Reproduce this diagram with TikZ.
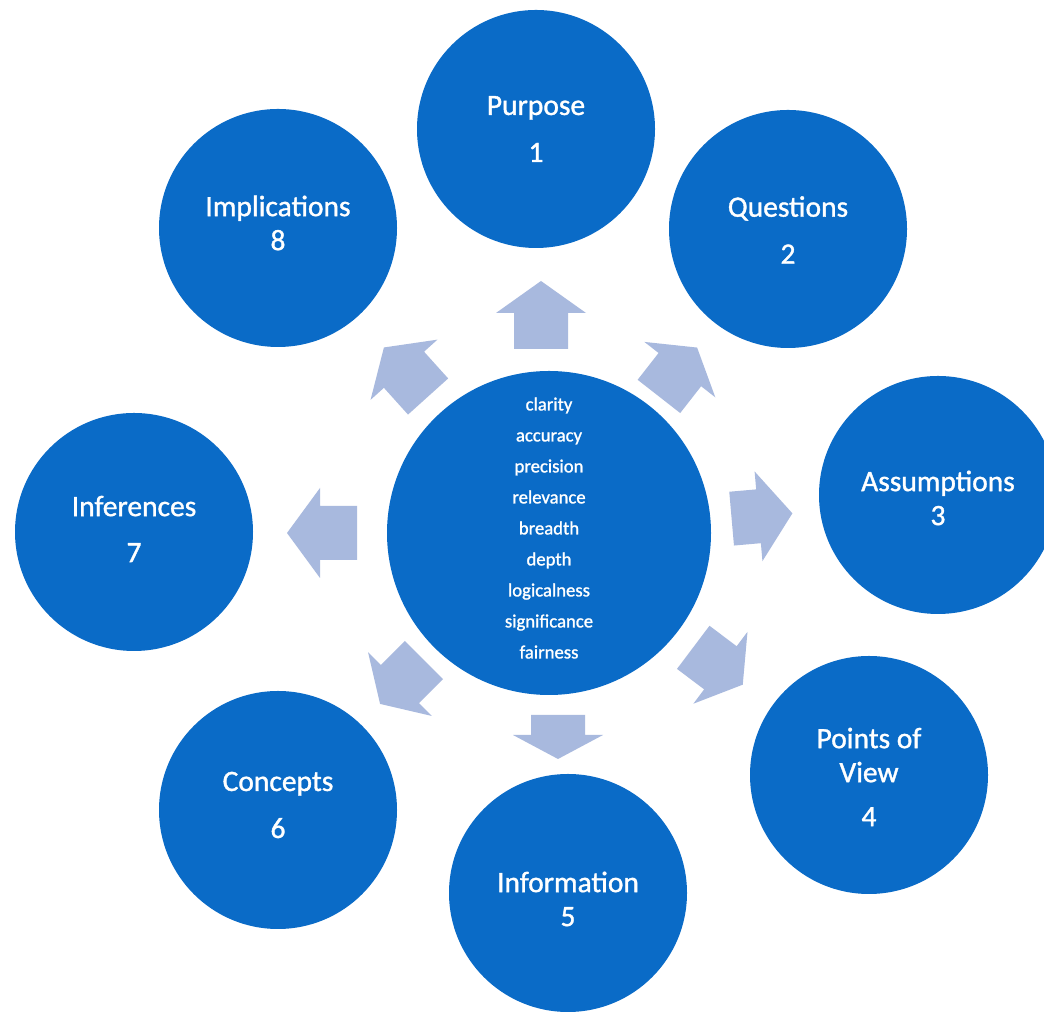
\documentclass[tikz,border=0pt]{standalone}
\usepackage{fontspec}
\setmainfont{Carlito}
\newfontfamily\labelfont{Carlito}[FakeBold=1.2]
\definecolor{cblue}{RGB}{10,107,199}
\definecolor{arrowc}{RGB}{168,185,222}
\tikzset{
  outer/.style={circle, fill=cblue, draw=none, minimum size=238pt, inner sep=0pt},
  otext/.style={text=white, align=center, inner sep=0pt, font=\labelfont\fontsize{29.5}{34}\selectfont},
  inner/.style={circle, fill=cblue, draw=none, minimum size=324pt, inner sep=0pt},
  innertext/.style={text=white, align=center, font=\labelfont\fontsize{18.7}{31}\selectfont},
  pics/barrow/.style 2 args={code={
    \fill[arrowc] ({-(#1+#2)/2},-27) -- ({(#1-#2)/2},-27) -- ({(#1-#2)/2},-45)
      -- ({(#1+#2)/2},0) -- ({(#1-#2)/2},45) -- ({(#1-#2)/2},27)
      -- ({-(#1+#2)/2},27) -- cycle;}}
}
\begin{document}
\begin{tikzpicture}[x=1pt,y=1pt]
\useasboundingbox[fill=white] (0,0) rectangle (1044,1016);
% centre
\node[inner] (c) at (549,483) {};
\node[innertext] (ct) at ([yshift=5pt]c.center) {clarity\\accuracy\\precision\\relevance\\breadth\\depth\\logicalness\\significance\\fairness};
% outer circles
\node[outer] (p1) at (536,887) {};
\node[outer] (p2) at (788,787) {};
\node[outer] (p3) at (938,521) {};
\node[outer] (p4) at (869,241) {};
\node[outer] (p5) at (568,123) {};
\node[outer] (p6) at (278,206) {};
\node[outer] (p7) at (134,484) {};
\node[outer] (p8) at (278,788) {};
% labels
\node[otext] (t1) at (p1.center) {Purpose\\[13pt]1};
\node[otext] (t2) at ([yshift=-1pt]p2.center) {Questions\\[13pt]2};
\node[otext] (t3) at ([yshift=-3pt]p3.center) {Assumptions\\3};
\node[otext] (t4) at ([yshift=-2pt]p4.center) {Points of\\View\\[10pt]4};
\node[otext] (t5) at ([yshift=-6pt]p5.center) {Information\\5};
\node[otext] (t6) at ([yshift=5pt]p6.center) {Concepts\\[13pt]6};
\node[otext] (t7) at ([yshift=3pt]p7.center) {Inferences\\[12pt]7};
\node[otext] (t8) at ([yshift=5pt]p8.center) {Implications\\8};
% arrows
\pic[rotate=90]  at (541,701) {barrow={36}{32}};
\pic[rotate=52]  at (678,644) {barrow={34}{28}};
\pic[rotate=5]   at (762,500) {barrow={27}{34}};
\pic[rotate=-37] at (718,350) {barrow={34}{28}};
\pic[rotate=-90] at (558,279) {barrow={20}{24}};
\pic[rotate=225] at (402,334) {barrow={34}{28}};
\pic[rotate=180] at (322,483) {barrow={37}{33}};
\pic[rotate=132] at (406,644) {barrow={36}{30}};
\end{tikzpicture}
\end{document}
